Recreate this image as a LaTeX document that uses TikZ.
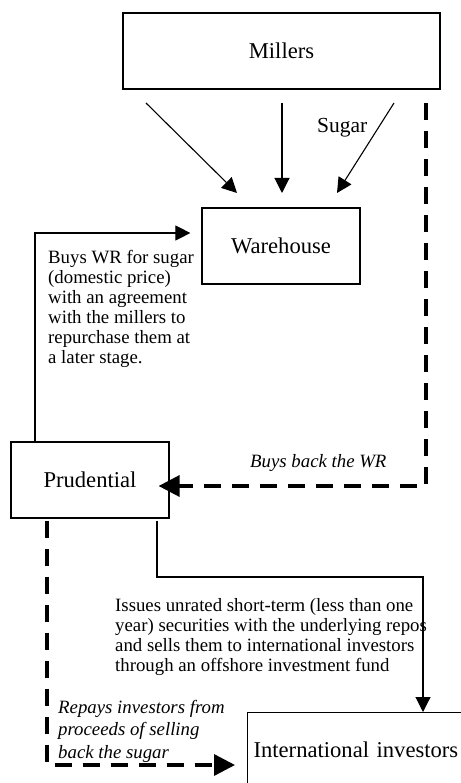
\documentclass[tikz,border=0pt]{standalone}
\usepackage{fontspec}
\setmainfont{Liberation Serif}
\usetikzlibrary{arrows.meta}
\begin{document}
\begin{tikzpicture}[x=1pt,y=-1pt,
  box/.style={draw, line width=1.2pt, inner sep=0pt, font=\fontsize{22.6}{24}\selectfont},
  ann/.style={inner sep=0pt, align=left, anchor=base west, font=\fontsize{18.8}{20}\selectfont},
  conn/.style={line width=1.1pt, -{Triangle[length=15pt,width=15pt]}},
  dconn/.style={line width=3.4pt, dash pattern=on 17pt off 11pt, -{Triangle[length=21pt,width=21pt]}},
]
\useasboundingbox (0,0) rectangle (460,783);

% boxes
\node[box, minimum width=317pt, minimum height=76pt] (millers) at (281.5,51) {Millers};
\node[box, minimum width=158pt, minimum height=76pt] (wh) at (281,246) {Warehouse};
\node[box, minimum width=158pt, minimum height=76pt] (prud) at (90,480) {Prudential};
\node[box, anchor=north west, minimum height=74pt, text width=218pt, align=left, inner xsep=6pt] (intl) at (247,712) {International investors};

% annotations (anchor = baseline of last line)
\node[ann] (t1) at (48,363) {Buys WR for sugar\\(domestic price)\\with an agreement\\with the millers to\\repurchase them at\\a later stage.};
\node[ann, font=\fontsize{18.8}{20}\selectfont\itshape] (t2) at (250,467) {Buys back the WR};
\node[ann] (t3) at (115,671) {Issues unrated short-term (less than one\\year) securities with the underlying repos\\and sells them to international investors\\through an offshore investment fund};
\node[ann, font=\fontsize{18.8}{22.5}\selectfont\itshape] (t4) at (58,758) {Repays investors from\\proceeds of selling\\back the sugar};
\node[ann, font=\fontsize{21.5}{23}\selectfont] (sugar) at (317,133) {Sugar};

% sugar flows
\coordinate (m1) at (146,103); \coordinate (w1) at (237,193);
\coordinate (m2) at (282,103); \coordinate (w2) at (282,193);
\coordinate (m3) at (394,103); \coordinate (w3) at (337,193);
\draw[conn] (m1) -- (w1);
\draw[conn] (m2) -- (w2);
\draw[conn] (m3) -- (w3);

% Prudential buys WR
\coordinate (pb) at (35,233);
\draw[conn] (prud.north -| pb) -- (pb) -- ([xshift=-11pt]pb -| wh.west);

% buys back the WR
\coordinate (bb0) at (426,103);
\coordinate (bb1) at (426,486);
\draw[dconn] (bb0) -- (bb1) -- ([xshift=-11pt]bb1 -| prud.east);

% issues securities
\coordinate (is1) at (157,577);
\coordinate (is2) at (423,577);
\draw[conn] ([yshift=-2pt]prud.south -| is1) -- (is1) -- (is2) -- (is2 |- intl.north);

% repays investors
\coordinate (rp) at (47,765);
\draw[dconn] ([yshift=-2pt]prud.south -| rp) -- (rp) -- ([xshift=-12pt]rp -| intl.west);
\end{tikzpicture}
\end{document}
